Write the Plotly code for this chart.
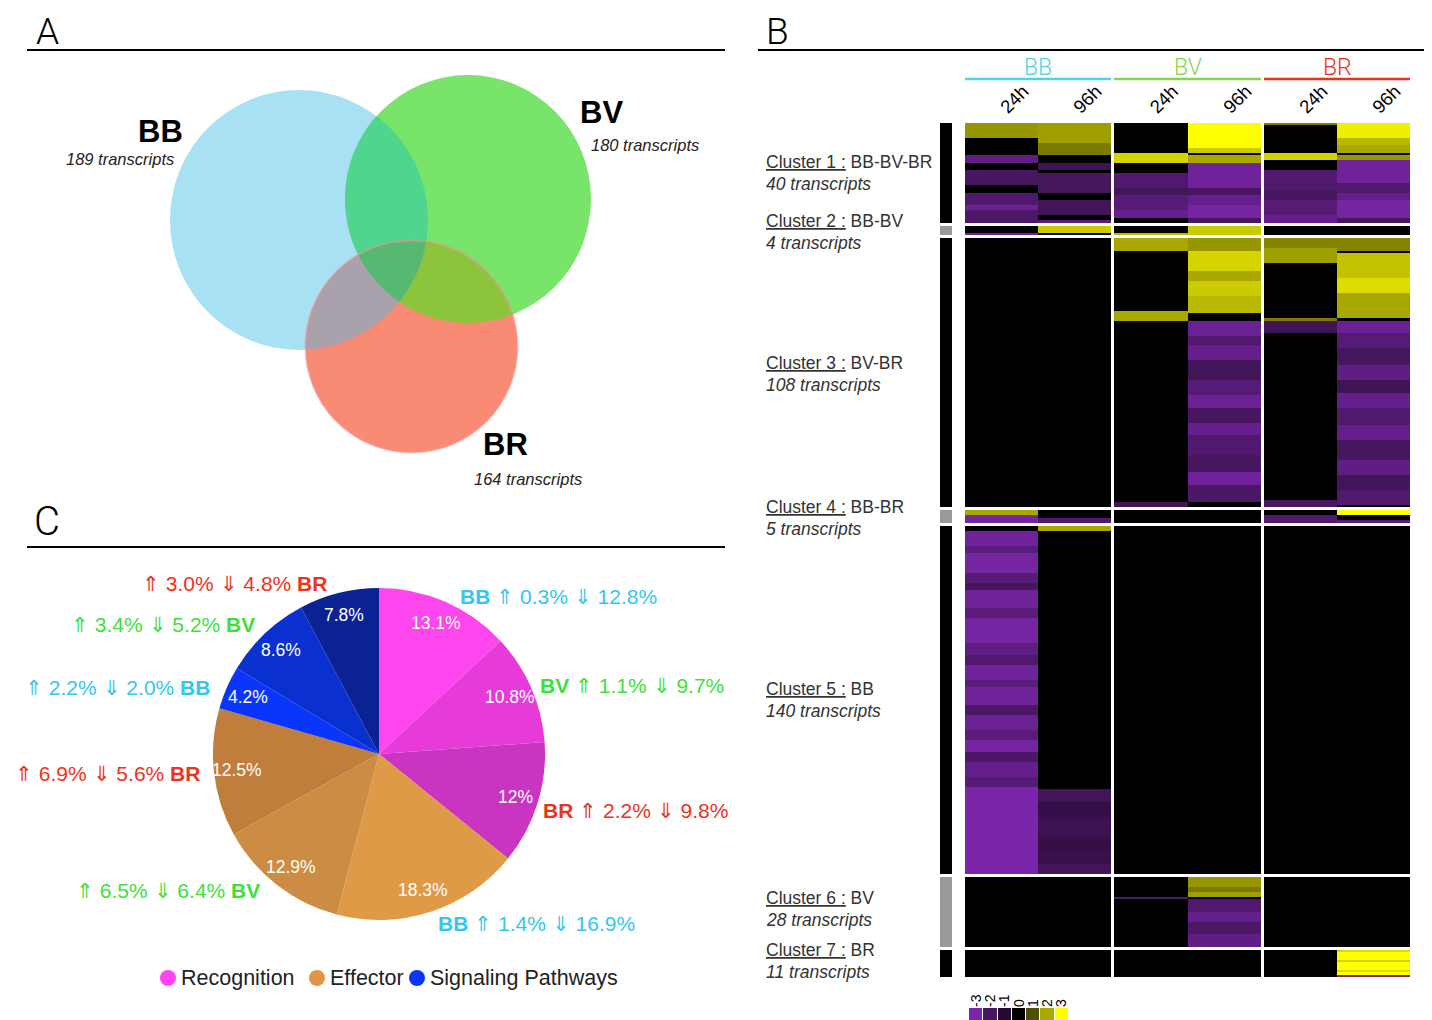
import numpy as np
import plotly.graph_objects as go

W, H = 1432, 1020

# ------------------------------------------------------------------ data
# Panel A : Venn diagram
VENN_SETS = ["BB", "BV", "BR"]
VENN_TOTALS = [189, 180, 164]
VENN_REGIONS = ["BB", "BB&BV", "BV", "BB&BV&BR", "BV&BR", "BB&BR", "BR"]
VENN_COUNTS = [140, 4, 28, 40, 108, 5, 11]

# Panel C : pie chart
PIE_CATEGORY = ["Recognition", "Recognition", "Recognition",
                "Effector", "Effector", "Effector",
                "Signaling Pathways", "Signaling Pathways", "Signaling Pathways"]
PIE_SPECIES = ["BB", "BV", "BR", "BB", "BV", "BR", "BB", "BV", "BR"]
PIE_VALUES = [13.1, 10.8, 12.0, 18.3, 12.9, 12.5, 4.2, 8.6, 7.8]
PIE_TEXT = ["13.1%", "10.8%", "12%", "18.3%", "12.9%", "12.5%", "4.2%", "8.6%", "7.8%"]
PIE_UP = [0.3, 1.1, 2.2, 1.4, 6.5, 6.9, 2.2, 3.4, 3.0]
PIE_DOWN = [12.8, 9.7, 9.8, 16.9, 6.4, 5.6, 2.0, 5.2, 4.8]
LEGEND_CATEGORIES = ["Recognition", "Effector", "Signaling Pathways"]

# Panel B : heatmap
HEAT_GROUPS = ["BB", "BV", "BR"]
HEAT_TIMES = ["24h", "96h"]
COLORBAR_TICKS = [-3, -2, -1, 0, 1, 2, 3]
CLUSTER_NAMES = ["Cluster 1", "Cluster 2", "Cluster 3", "Cluster 4",
                 "Cluster 5", "Cluster 6", "Cluster 7"]
CLUSTER_SETS = ["BB-BV-BR", "BB-BV", "BV-BR", "BB-BR", "BB", "BV", "BR"]
CLUSTER_SIZES = [40, 4, 108, 5, 140, 28, 11]

# run-length rows (count, value) for columns BB24, BB96, BV24, BV96, BR24, BR96
CLUSTER1_RUNS = [
    [(6, 1.8), (7, 0), (3, -2.5), (3, 0), (6, -2.0), (3, 0), (5, -2.2), (2, -2.7), (5, -2.1)],
    [(8, 1.9), (5, 1.5), (3, 0), (3, -1.8), (1, 0), (8, -2.0), (3, 0), (6, -1.9), (2, 0), (1, -2.4)],
    [(12, 0), (4, 2.5), (4, 0), (6, -2.2), (3, -1.9), (6, -2.3), (3, -2.6), (2, 0)],
    [(10, 3.0), (2, 2.4), (1, 0), (3, 2.0), (10, -2.8), (3, -2.0), (4, -2.6), (5, -2.9), (2, -2.0)],
    [(1, 1.5), (11, 0), (3, 2.5), (4, 0), (8, -2.2), (4, -2.0), (6, -2.3), (3, -2.6)],
    [(6, 2.8), (3, 2.2), (3, 2.0), (1, 0), (2, 1.8), (9, -2.8), (4, -2.2), (3, -2.6), (7, -2.9), (2, -2.0)],
]
CLUSTER2_RUNS = [
    [(3, 0), (1, -2.8)],
    [(3, 2.4), (1, 0)],
    [(3, 0), (1, 2.2)],
    [(4, 2.4)],
    [(4, 0)],
    [(4, 0)],
]
CLUSTER3_RUNS = [
    [(108, 0)],
    [(108, 0)],
    [(5, 2.0), (24, 0), (4, 2.0), (73, 0), (2, -1.8)],
    [(5, 1.8), (8, 2.5), (4, 2.0), (6, 2.4), (7, 2.2), (3, 0), (6, -2.7), (4, -2.2), (6, -2.6),
     (8, -1.9), (6, -2.3), (5, -2.7), (6, -2.0), (5, -2.6), (8, -2.2), (7, -2.0), (5, -2.8),
     (7, -2.1), (2, 0)],
    [(4, 1.6), (6, 1.9), (22, 0), (1, 1.5), (5, -1.8), (67, 0), (3, -2.0)],
    [(5, 1.6), (1, 0), (10, 2.3), (6, 2.6), (10, 2.0), (1, 0), (5, -2.7), (6, -2.3), (7, -2.0),
     (6, -2.5), (5, -1.8), (6, -2.6), (7, -2.2), (6, -2.6), (8, -2.0), (6, -2.5), (6, -1.9),
     (6, -2.2), (1, 0)],
]
CLUSTER4_RUNS = [
    [(2, 2.0), (3, -2.9)],
    [(3, 0), (2, -2.2)],
    [(5, 0)],
    [(5, 0)],
    [(2, 0), (3, -2.2)],
    [(2, 3.0), (2, 0), (1, -2.4)],
]
CLUSTER5_RUNS = [
    [(2, 0), (6, -2.8), (3, -2.4), (8, -2.9), (4, -2.3), (3, -2.0), (7, -2.8), (4, -2.4),
     (10, -2.9), (5, -2.5), (4, -2.2), (6, -2.8), (3, -2.4), (7, -2.8), (4, -2.1), (6, -2.7),
     (4, -2.4), (5, -2.9), (4, -2.1), (6, -2.6), (4, -2.3), (35, -3.0)],
    [(2, 2.0), (104, 0), (5, -1.9), (6, -1.5), (8, -1.7), (6, -1.5), (5, -1.6), (4, -1.9)],
    [(140, 0)],
    [(140, 0)],
    [(140, 0)],
    [(140, 0)],
]
CLUSTER6_RUNS = [
    [(28, 0)],
    [(28, 0)],
    [(8, 0), (1, -2.2), (19, 0)],
    [(4, 1.8), (2, 1.5), (2, 1.9), (1, 0), (5, -2.2), (4, -2.6), (5, -2.1), (5, -2.5)],
    [(28, 0)],
    [(28, 0)],
]
CLUSTER7_RUNS = [
    [(11, 0)],
    [(11, 0)],
    [(11, 0)],
    [(11, 0)],
    [(11, 0)],
    [(1, 2.6), (3, 3.0), (1, 2.5), (3, 3.0), (1, 2.6), (1, 3.0), (1, -2.8)],
]
CLUSTER_RUNS = [CLUSTER1_RUNS, CLUSTER2_RUNS, CLUSTER3_RUNS, CLUSTER4_RUNS,
                CLUSTER5_RUNS, CLUSTER6_RUNS, CLUSTER7_RUNS]

# ------------------------------------------------------------------ styles
# the page body has an 8px margin: all positions below are page pixels,
# converted to figure space with this offset
OX, OY = 8, 8
FONT = "Liberation Sans"
THIN = "Roboto"
SPECIES_COLORS = {"BB": "#35c6f0", "BV": "#3ee03a", "BR": "#ee3220"}
HEADER_COLORS = {"BB": "#4ed4e6", "BV": "#84d450", "BR": "#e8321e"}
PIE_COLORS = ["#ff45ee", "#e63ad9", "#c935c1", "#df9a47", "#cc8c43",
              "#bf7e3b", "#0a35fb", "#0a30d0", "#0a2294"]
LEGEND_COLORS = {"Recognition": "#ff45ee", "Effector": "#de9845",
                 "Signaling Pathways": "#0a35fb"}
LEGEND_X = {"Recognition": 168, "Effector": 317, "Signaling Pathways": 417}
LEGEND_Y = 978
HEAT_SCALE = [[0.0, "#7a25aa"], [1 / 6, "#46165e"], [2 / 6, "#240a30"], [0.5, "#000000"],
              [4 / 6, "#4e4e05"], [5 / 6, "#a8a800"], [1.0, "#ffff00"]]

VENN_GEOM = {"BB": (299, 220, 129, 130), "BV": (468, 199, 123, 124), "BR": (411.5, 346.5, 106, 106)}
VENN_SET_COLORS = {"BB": "#a8e1f3", "BV": "#78e46a", "BR": "#f98b74"}
VENN_OVERLAP_COLORS = {"BB&BV": "#50d58f", "BV&BR": "#8cc53c", "BB&BR": "#a9a1ab",
                       "BB&BV&BR": "#57b872"}
VENN_COUNT_POS = {"BB": (293, 214), "BB&BV": (381, 189), "BV": (478, 195),
                  "BB&BV&BR": (390, 268), "BV&BR": (452, 290), "BB&BR": (353, 308),
                  "BR": (410, 356)}
VENN_NAME_POS = {"BB": (160, 131), "BV": (601, 112), "BR": (505, 444)}
VENN_TOTAL_POS = {"BB": (120, 159), "BV": (645, 145), "BR": (528, 479)}

PIE_CX, PIE_CY, PIE_R = 379, 754, 166
PIE_LABEL_POS = [(458, 596, "left"), (538, 685, "left"), (541, 810, "left"),
                 (436, 923, "left"), (262, 890, "right"), (202, 773, "right"),
                 (212, 687, "right"), (257, 624, "right"), (329, 583, "right")]

HM_TOP, HM_BOTTOM, ROW_GAP = 123, 977, 3
HM_COL_EDGES = [965, 1038, 1111, 1114, 1188, 1261, 1264, 1337, 1410]
BAR_EDGES = [940, 952]
CLUSTER_LABEL_Y = [162, 221, 363, 507, 689, 898, 950]


def dx(p):
    return (p - OX) / W


def dy(p):
    return 1 - (p - OY) / H


fig = go.Figure()
annotations = []
shapes = []


def ann(x, y, text, size, color="#000", xanchor="center", yanchor="middle",
        family=FONT, weight=None):
    f = dict(size=size, color=color, family=family)
    if weight is not None:
        f["weight"] = weight
    annotations.append(dict(x=x, y=y, xref="x", yref="y", text=text, showarrow=False,
                            xanchor=xanchor, yanchor=yanchor, font=f))


def hline(x0, x1, y, color="#000", width=2):
    shapes.append(dict(type="line", xref="x", yref="y", x0=x0, x1=x1, y0=y, y1=y,
                       line=dict(color=color, width=width)))


# ------------------------------------------------------------------ panel headers
ann(47, OY, "A", 37, yanchor="top", family=THIN, weight=300)
ann(777, OY, "B", 37, yanchor="top", family=THIN, weight=300)
ann(47, 521, "C", 40, family=THIN, weight=300)
hline(27, 725, 50)
hline(758, 1430, 50)
hline(27, 725, 547)

# ------------------------------------------------------------------ Venn
def ellipse_boundary(g, n=900):
    cx, cy, rx, ry = g
    t = np.linspace(0, 2 * np.pi, n, endpoint=False)
    return np.c_[cx + rx * np.cos(t), cy + ry * np.sin(t)]


def inside(pts, g):
    cx, cy, rx, ry = g
    return ((pts[:, 0] - cx) / rx) ** 2 + ((pts[:, 1] - cy) / ry) ** 2 <= 1 + 1e-9


def intersection_path(keys):
    parts = []
    for k in keys:
        b = ellipse_boundary(VENN_GEOM[k])
        m = np.ones(len(b), bool)
        for o in keys:
            if o != k:
                m &= inside(b, VENN_GEOM[o])
        parts.append(b[m])
    P = np.vstack(parts)
    c = P.mean(axis=0)
    P = P[np.argsort(np.arctan2(P[:, 1] - c[1], P[:, 0] - c[0]))]
    return "M " + " L ".join(f"{x:.2f},{y:.2f}" for x, y in P) + " Z"


for s in VENN_SETS:
    cx, cy, rx, ry = VENN_GEOM[s]
    shapes.append(dict(type="circle", xref="x", yref="y", x0=cx - rx, x1=cx + rx,
                       y0=cy - ry, y1=cy + ry, fillcolor=VENN_SET_COLORS[s],
                       line=dict(width=0)))
for key in ["BB&BV", "BV&BR", "BB&BR", "BB&BV&BR"]:
    shapes.append(dict(type="path", xref="x", yref="y", path=intersection_path(key.split("&")),
                       fillcolor=VENN_OVERLAP_COLORS[key], line=dict(width=0)))
cx, cy, rx, ry = VENN_GEOM["BR"]
shapes.append(dict(type="circle", xref="x", yref="y", x0=cx - rx, x1=cx + rx,
                   y0=cy - ry, y1=cy + ry, fillcolor="rgba(0,0,0,0)",
                   line=dict(color="rgba(235,150,150,0.55)", width=2)))

fig.add_trace(go.Scatter(
    x=[VENN_COUNT_POS[r][0] for r in VENN_REGIONS],
    y=[VENN_COUNT_POS[r][1] for r in VENN_REGIONS],
    text=[f"<i>{c}</i>" for c in VENN_COUNTS], mode="text",
    textfont=dict(size=27, color="#000", family=FONT),
    xaxis="x", yaxis="y", hoverinfo="skip", showlegend=False))

for s, tot in zip(VENN_SETS, VENN_TOTALS):
    ann(*VENN_NAME_POS[s], f"<b>{s}</b>", 31)
    ann(*VENN_TOTAL_POS[s], f"<i>{tot} transcripts</i>", 16.5, color="#222")

# ------------------------------------------------------------------ Pie
fig.add_trace(go.Pie(
    values=PIE_VALUES, labels=[f"{c} {s}" for c, s in zip(PIE_CATEGORY, PIE_SPECIES)],
    marker=dict(colors=PIE_COLORS, line=dict(width=0)),
    sort=False, direction="clockwise", rotation=0, textinfo="none",
    hoverinfo="skip", showlegend=False,
    domain=dict(x=[dx(PIE_CX - PIE_R), dx(PIE_CX + PIE_R)],
                y=[dy(PIE_CY + PIE_R), dy(PIE_CY - PIE_R)])))

vals = np.array(PIE_VALUES)
fr = vals / vals.sum()
mid = (np.cumsum(fr) - fr / 2) * 2 * np.pi
for i, t in enumerate(PIE_TEXT):
    r = 0.86 * PIE_R
    ann(PIE_CX + r * np.sin(mid[i]), PIE_CY - r * np.cos(mid[i]), t, 17.5, color="#ffffff")

for i in range(len(PIE_VALUES)):
    sp = PIE_SPECIES[i]
    x, y, side = PIE_LABEL_POS[i]
    body = f"⇑ {PIE_UP[i]:.1f}% ⇓ {PIE_DOWN[i]:.1f}%"
    txt = f"<b>{sp}</b> {body}" if side == "left" else f"{body} <b>{sp}</b>"
    ann(x, y, txt, 21, color=SPECIES_COLORS[sp], xanchor=side)

# category key (markers + names)
fig.add_trace(go.Scatter(
    x=[LEGEND_X[c] for c in LEGEND_CATEGORIES], y=[LEGEND_Y] * len(LEGEND_CATEGORIES),
    mode="markers", marker=dict(size=16, color=[LEGEND_COLORS[c] for c in LEGEND_CATEGORIES]),
    xaxis="x", yaxis="y", hoverinfo="skip", showlegend=False))
for c in LEGEND_CATEGORIES:
    ann(LEGEND_X[c] + 11, LEGEND_Y, c, 21.5, color="#222", xanchor="left")

# ------------------------------------------------------------------ Heatmap
def expand(runs, n):
    out = []
    for cnt, v in runs:
        out += [v] * cnt
    return (out + [0.0] * n)[:n]


n_total = sum(CLUSTER_SIZES)
row_h = (HM_BOTTOM - HM_TOP - ROW_GAP * (len(CLUSTER_SIZES) - 1)) / n_total
y_edges = [HM_TOP]
z, zbar = [], []
nan = np.nan
for ci, (size, runs) in enumerate(zip(CLUSTER_SIZES, CLUSTER_RUNS)):
    cols = [expand(r, size) for r in runs]
    for i in range(size):
        z.append([cols[0][i], cols[1][i], nan, cols[2][i], cols[3][i], nan, cols[4][i], cols[5][i]])
        zbar.append([ci % 2])
        y_edges.append(y_edges[-1] + row_h)
    if ci < len(CLUSTER_SIZES) - 1:
        z.append([nan] * 8)
        zbar.append([nan])
        y_edges.append(y_edges[-1] + ROW_GAP)

fig.add_trace(go.Heatmap(x=HM_COL_EDGES, y=y_edges, z=z, colorscale=HEAT_SCALE,
                         zmin=-3, zmax=3, showscale=False, hoverinfo="skip",
                         xaxis="x2", yaxis="y2"))
fig.add_trace(go.Heatmap(x=BAR_EDGES, y=y_edges, z=zbar,
                         colorscale=[[0, "#000000"], [1, "#999999"]],
                         zmin=0, zmax=1, showscale=False, hoverinfo="skip",
                         xaxis="x2", yaxis="y2"))

data_cols = [(0, 1), (1, 2), (3, 4), (4, 5), (6, 7), (7, 8)]
col_centers = [(HM_COL_EDGES[a] + HM_COL_EDGES[b]) / 2 for a, b in data_cols]
col_text = [t for g in HEAT_GROUPS for t in HEAT_TIMES]

# group headers
for gi, g in enumerate(HEAT_GROUPS):
    x0 = HM_COL_EDGES[gi * 3]
    x1 = HM_COL_EDGES[gi * 3 + 2]
    ann((x0 + x1) / 2, 67, g, 23, color=HEADER_COLORS[g], family=THIN, weight=300)
    hline(x0, x1, 79, color=HEADER_COLORS[g], width=2.5)

# cluster labels
for name, sets, n, y in zip(CLUSTER_NAMES, CLUSTER_SETS, CLUSTER_SIZES, CLUSTER_LABEL_Y):
    ann(764, y, f"<u>{name} :</u> {sets}", 17.5, color="#333", xanchor="left")
    ann(764, y + 22, f"<i>{n} transcripts</i>", 17.5, color="#333", xanchor="left")

# color key
fig.add_trace(go.Heatmap(x=COLORBAR_TICKS, y=[0], z=[COLORBAR_TICKS], colorscale=HEAT_SCALE,
                         zmin=-3, zmax=3, showscale=False, xgap=1, hoverinfo="skip",
                         xaxis="x3", yaxis="y3"))

fig.update_layout(
    width=W, height=H, margin=dict(l=0, r=0, t=0, b=0),
    paper_bgcolor="white", plot_bgcolor="rgba(0,0,0,0)",
    font=dict(family=FONT, color="#000"),
    xaxis=dict(domain=[0, 1], range=[OX, W + OX], visible=False, fixedrange=True),
    yaxis=dict(domain=[0, 1], range=[H + OY, OY], visible=False, fixedrange=True),
    xaxis2=dict(domain=[dx(BAR_EDGES[0]), dx(1411)], range=[BAR_EDGES[0], 1411], anchor="y2",
                side="top", tickvals=col_centers, ticktext=col_text, tickangle=-45,
                ticks="", showgrid=False, zeroline=False, showline=False,
                tickfont=dict(size=18.5, family=FONT), fixedrange=True),
    yaxis2=dict(domain=[dy(HM_BOTTOM), dy(HM_TOP - 1)], range=[HM_BOTTOM, HM_TOP - 1],
                anchor="x2", visible=False, fixedrange=True),
    xaxis3=dict(domain=[dx(969), dx(1069)], range=[-3.5, 3.5], anchor="y3", side="top",
                tickvals=COLORBAR_TICKS, ticktext=[str(t) for t in COLORBAR_TICKS],
                tickangle=-90, ticks="", showgrid=False, zeroline=False, showline=False,
                tickfont=dict(size=14, family=FONT), fixedrange=True),
    yaxis3=dict(domain=[dy(1020), dy(1008)], range=[-0.5, 0.5], anchor="x3", visible=False,
                fixedrange=True),
    shapes=shapes, annotations=annotations,
)

fig.write_html("out.html")
